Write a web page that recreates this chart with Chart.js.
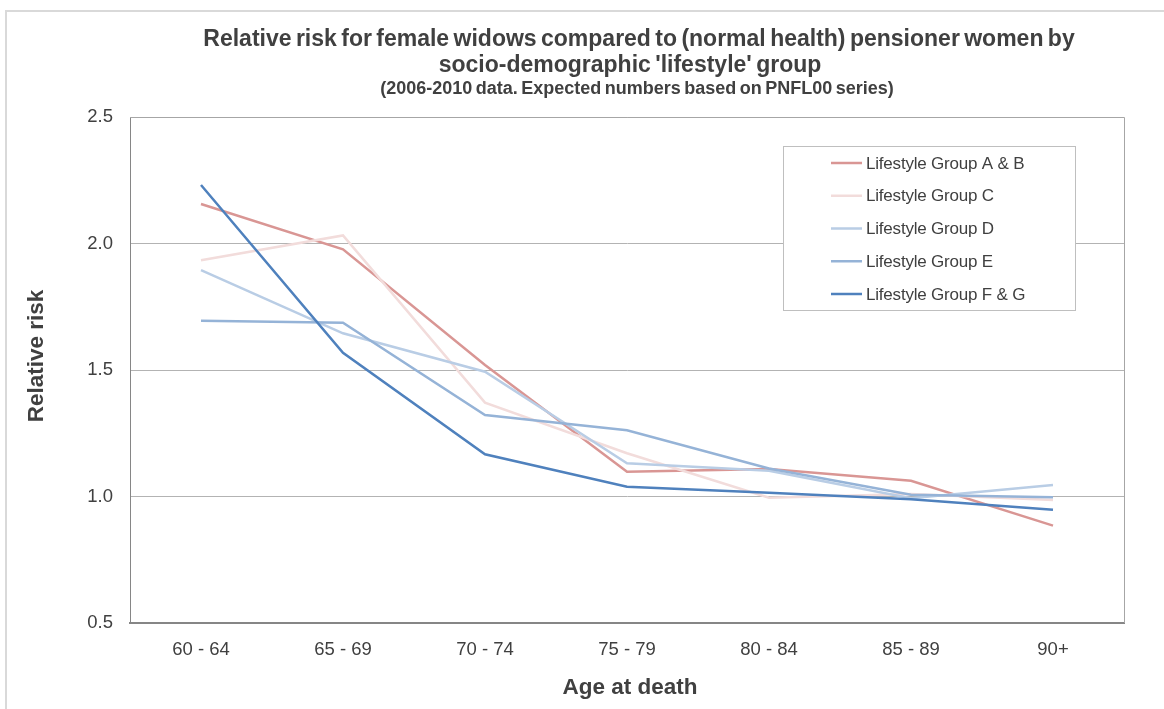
<!DOCTYPE html>
<html>
<head>
<meta charset="utf-8">
<script src="https://cdn.jsdelivr.net/npm/chart.js@4/dist/chart.umd.min.js"></script>
<style>
  html, body { margin: 0; padding: 0; background: #ffffff; }
  #wrap { width: 1164px; height: 709px; position: relative; }
</style>
</head>
<body>
<div id="wrap"><canvas id="chart" width="1164" height="709"></canvas></div>
<script>
// Age bands at death
const ageBands = ['60 - 64', '65 - 69', '70 - 74', '75 - 79', '80 - 84', '85 - 89', '90+'];

// Relative risk by lifestyle group
const groupAB = [2.156, 1.977, 1.520, 1.098, 1.109, 1.062, 0.885];
const groupC  = [1.934, 2.032, 1.371, 1.171, 0.995, 1.010, 0.986];
const groupD  = [1.895, 1.645, 1.493, 1.131, 1.102, 0.993, 1.045];
const groupE  = [1.695, 1.687, 1.322, 1.262, 1.111, 1.007, 0.997];
const groupFG = [2.231, 1.568, 1.167, 1.039, 1.015, 0.989, 0.948];

const seriesNames = ['Lifestyle Group A & B', 'Lifestyle Group C', 'Lifestyle Group D', 'Lifestyle Group E', 'Lifestyle Group F & G'];
const seriesValues = [groupAB, groupC, groupD, groupE, groupFG];
const seriesColors = ['#d99694', '#f2dcdb', '#b9cde5', '#95b3d7', '#4f81bd'];

const yTicks = [0.5, 1.0, 1.5, 2.0, 2.5];

const titleLines = [
  'Relative risk for female widows compared to (normal health) pensioner women by',
  "socio-demographic 'lifestyle' group"
];
const subtitleText = '(2006-2010 data. Expected numbers based on PNFL00 series)';
const xAxisTitle = 'Age at death';
const yAxisTitle = 'Relative risk';

const FONT = '"Liberation Sans", Arial, sans-serif';
const TEXT_COLOR = '#404040';

function setSpacing(ctx, word, letter) {
  if ('wordSpacing' in ctx) ctx.wordSpacing = word + 'px';
  if ('letterSpacing' in ctx) ctx.letterSpacing = letter + 'px';
}

// Frame, plot border, titles and the inset legend
const decorations = {
  id: 'decorations',
  beforeDraw(chart) {
    const ctx = chart.ctx;
    ctx.save();
    ctx.strokeStyle = '#d9d9d9';
    ctx.lineWidth = 2;
    ctx.strokeRect(6, 11, 1200, 760);
    ctx.restore();
  },
  beforeDatasetsDraw(chart) {
    const { ctx, chartArea: a } = chart;
    ctx.save();
    ctx.strokeStyle = '#a6a6a6';
    ctx.lineWidth = 1;
    ctx.beginPath();
    ctx.moveTo(a.left, a.top + 0.5);
    ctx.lineTo(a.right + 0.5, a.top + 0.5);
    ctx.lineTo(a.right + 0.5, a.bottom);
    ctx.stroke();
    ctx.restore();
  },
  afterDraw(chart) {
    const { ctx } = chart;
    ctx.save();
    ctx.fillStyle = TEXT_COLOR;
    ctx.textAlign = 'center';
    ctx.textBaseline = 'middle';

    ctx.font = 'bold 23px ' + FONT;
    setSpacing(ctx, -2, 0);
    ctx.fillText(titleLines[0], 639, 40);
    ctx.fillText(titleLines[1], 630, 66);
    ctx.font = 'bold 18px ' + FONT;
    setSpacing(ctx, -1.5, 0);
    ctx.fillText(subtitleText, 637, 89);

    setSpacing(ctx, 0, 0);
    ctx.font = 'bold 22.5px ' + FONT;
    ctx.fillText(xAxisTitle, 630, 688);

    ctx.save();
    ctx.translate(37, 356);
    ctx.rotate(-Math.PI / 2);
    ctx.fillText(yAxisTitle, 0, 0);
    ctx.restore();

    // legend box
    const lx = 783, ly = 146, lw = 292, lh = 164;
    ctx.fillStyle = '#ffffff';
    ctx.fillRect(lx, ly, lw, lh);
    ctx.strokeStyle = '#bfbfbf';
    ctx.lineWidth = 1;
    ctx.strokeRect(lx + 0.5, ly + 0.5, lw, lh);
    ctx.font = '17px ' + FONT;
    setSpacing(ctx, 0, -0.2);
    ctx.textAlign = 'left';
    chart.data.datasets.forEach((ds, i) => {
      const y = 163 + i * 32.75;
      ctx.strokeStyle = ds.borderColor;
      ctx.lineWidth = 2.5;
      ctx.beginPath();
      ctx.moveTo(831, y);
      ctx.lineTo(862, y);
      ctx.stroke();
      ctx.fillStyle = TEXT_COLOR;
      ctx.fillText(ds.label, 866, y + 1);
    });
    ctx.restore();
  }
};

new Chart(document.getElementById('chart'), {
  type: 'line',
  data: {
    labels: ageBands,
    datasets: seriesNames.map((name, i) => ({
      label: name,
      data: seriesValues[i],
      borderColor: seriesColors[i],
      backgroundColor: seriesColors[i],
      borderWidth: 2.5,
      pointRadius: 0,
      tension: 0,
      fill: false,
      order: seriesNames.length - i
    }))
  },
  options: {
    responsive: false,
    animation: false,
    devicePixelRatio: 1,
    layout: { padding: { left: 0, top: 117, right: 40, bottom: 0 } },
    plugins: {
      legend: { display: false },
      title: { display: false },
      tooltip: { enabled: false }
    },
    scales: {
      x: {
        type: 'category',
        offset: true,
        grid: { display: false, drawTicks: false },
        border: { display: true, color: '#868686', width: 2 },
        ticks: {
          color: TEXT_COLOR,
          font: { family: FONT, size: 18.5 },
          padding: 16,
          maxRotation: 0
        },
        afterFit(scale) { scale.height = 86; }
      },
      y: {
        min: 0.5,
        max: 2.5,
        afterBuildTicks(scale) { scale.ticks = yTicks.map(v => ({ value: v })); },
        grid: { color: '#b3b3b3', lineWidth: 1, drawTicks: false },
        border: { display: true, color: '#868686', width: 1 },
        ticks: {
          color: TEXT_COLOR,
          font: { family: FONT, size: 18.5 },
          padding: 17,
          callback: v => Number(v).toFixed(1)
        },
        afterFit(scale) { scale.width = 130; }
      }
    }
  },
  plugins: [decorations]
});
</script>
</body>
</html>
